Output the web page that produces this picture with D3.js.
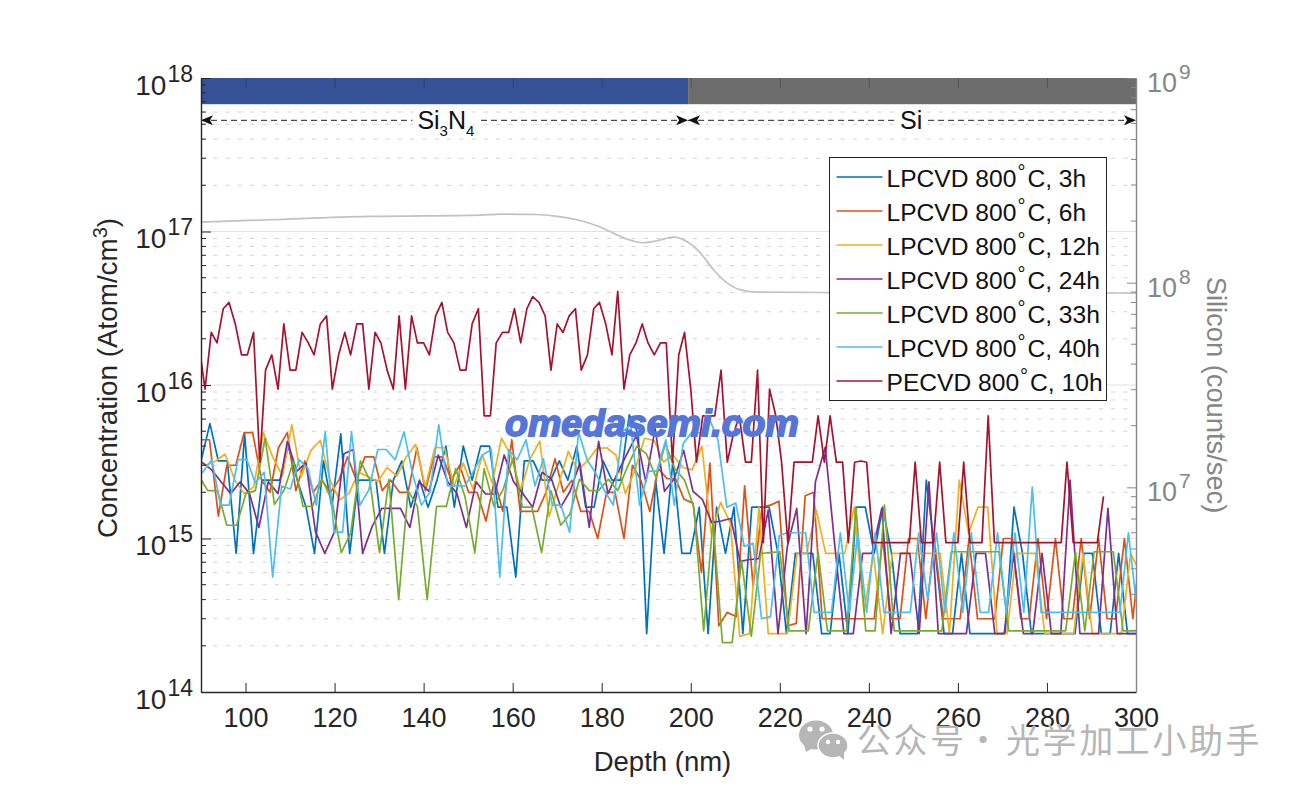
<!DOCTYPE html>
<html>
<head>
<meta charset="utf-8">
<script src="https://cdn.jsdelivr.net/npm/d3@7"></script>
<style>
  body { margin: 0; background: #fff; }
  svg { display: block; }
  text { font-family: "Liberation Sans", Arial, sans-serif; }
</style>
</head>
<body>
<svg id="chart" width="1303" height="793"></svg>
<script>
// concentrations are in units of 1e15 atom/cm3, silicon in units of 1e8 counts/sec
const depth3h = [
  90.0,92.0,93.9,95.9,97.9,99.8,101.8,103.7,105.7,107.7,
  109.6,111.6,113.6,115.5,117.5,119.4,121.4,123.4,125.3,127.3,
  129.3,131.2,133.2,135.1,137.1,139.1,141.0,143.0,145.0,146.9,
  148.9,150.9,152.8,154.8,156.7,158.7,160.7,162.6,164.6,166.6,
  168.5,170.5,172.4,174.4,176.4,178.3,180.3,182.3,184.2,186.2,
  188.2,190.1,192.1,194.0,196.0,198.0,199.9,201.9,203.9,205.8,
  207.8,209.7,211.7,213.7,215.6,217.6,219.6,221.5,223.5,225.4,
  227.4,229.4,231.3,233.3,235.3,237.2,239.2,241.2,243.1,245.1,
  247.0,249.0,251.0,252.9,254.9,256.9,258.8,260.8,262.7,264.7,
  266.7,268.6,270.6,272.6,274.5,276.5,278.5,280.4,282.4,284.3,
  286.3,288.3,290.2,292.2,294.2,296.1,298.1,300.0];
const conc3h = [
  3.2,5.6,3.2,3.2,.8,4.8,.8,2.4,2.4,2.4,
  4,2.4,1.6,.8,3.2,1.6,4.8,.8,2.4,2.4,
  2.4,.8,2.4,3.2,1.6,2.4,1.6,2.4,4,1.6,
  4,2.4,4,4,1.6,1.6,.56,3.2,3.2,2.4,
  2.4,3.2,2.4,4,1.6,1.6,3.2,2.4,2.4,6.4,
  4.8,.24,2.4,.8,3.2,.8,.8,1.6,.24,1.6,
  .8,1.6,.24,1.6,1.6,1.6,.8,.24,.8,.8,
  .8,.24,.24,.8,.24,1.6,1.6,.8,1.6,.8,
  .24,.24,.24,2.4,.8,.24,.24,.8,.24,.24,
  .24,.24,.24,1.6,.8,.24,.24,.24,.24,.24,
  .24,.8,.8,.24,.24,.8,.24,.24];

const depth6h = [
  90.0,91.9,93.9,95.8,97.8,99.7,101.6,103.6,105.5,107.4,
  109.4,111.3,113.3,115.2,117.1,119.1,121.0,122.9,124.9,126.8,
  128.8,130.7,132.6,134.6,136.5,138.5,140.4,142.3,144.3,146.2,
  148.1,150.1,152.0,154.0,155.9,157.8,159.8,161.7,163.6,165.6,
  167.5,169.5,171.4,173.3,175.3,177.2,179.1,181.1,183.0,185.0,
  186.9,188.8,190.8,192.7,194.7,196.6,198.5,200.5,202.4,204.3,
  206.3,208.2,210.2,212.1,214.0,216.0,217.9,219.8,221.8,223.7,
  225.7,227.6,229.5,231.5,233.4,235.4,237.3,239.2,241.2,243.1,
  245.0,247.0,248.9,250.9,252.8,254.7,256.7,258.6,260.5,262.5,
  264.4,266.4,268.3,270.2,272.2,274.1,276.0,278.0,279.9,281.9,
  283.8,285.7,287.7,289.6,291.6,293.5,295.4,297.4,299.3,301.2];
const conc6h = [
  4.4,4.4,1.4,3,3,4.9,4.9,2.4,2,3.9,
  4.9,2.05,3.2,2,2.4,2,2.4,3.4,2.4,3.4,
  3.4,2.05,2.4,2,2,3.9,2.05,3.4,3.4,2.4,
  3,2,2,1.3,2.4,1.5,4.4,1.5,1.5,1.5,
  2,3.3,2,2.4,1.5,1.5,1,2,2,1,
  3,2.4,1.5,2.85,2.45,2.45,1.8,1.7,.6,3.1,
  .27,.33,.31,2.2,.49,1.6,1.65,1.75,.27,.28,
  1.9,2,.3,.3,.3,.3,.3,.3,.3,1,
  .3,.3,1,1,.3,1,.3,.3,.3,1,
  .3,.3,.3,1,1,.3,.3,1,.3,1,
  .3,.3,1,.3,1,.3,.3,1,.3,1];

const depth12h = [
  89.0,91.1,93.3,95.4,97.6,99.7,101.8,104.0,106.1,108.3,
  110.4,112.5,114.7,116.8,119.0,121.1,123.2,125.4,127.5,129.7,
  131.8,134.0,136.1,138.2,140.4,142.5,144.7,146.8,148.9,151.1,
  153.2,155.4,157.5,159.6,161.8,163.9,166.1,168.2,170.4,172.5,
  174.6,176.8,178.9,181.1,183.2,185.3,187.5,189.6,191.8,193.9,
  196.0,198.2,200.3,202.5,204.6,206.7,208.9,211.0,213.2,215.3,
  217.4,219.6,221.7,223.9,226.0,228.2,230.3,232.4,234.6,236.7,
  238.9,241.0,243.1,245.3,247.4,249.6,251.7,253.8,256.0,258.1,
  260.3,262.4,264.5,266.7,268.8,271.0,273.1,275.3,277.4,279.5,
  281.7,283.8,286.0,288.1,290.2,292.4,294.5,296.7,298.8,300.9];
const conc12h = [
  3.4,3,3.2,3.55,2.4,1.96,2.16,4.9,3.4,2.55,
  5.5,2.53,3.75,4.35,2.4,1.78,1.96,2.7,2.53,2.34,
  2.9,2.55,3.4,4.1,2.16,3.9,3.9,2.2,3.1,2.1,
  3.5,2.3,4.5,3.5,2.07,3.3,4.3,1.39,2.3,3.7,
  2.8,3.2,3.85,3.9,3.5,1.96,2.8,4.5,4.35,3.15,
  3.5,2.9,2.8,4,1.08,1.72,1.26,.23,.24,1.6,
  .24,.24,.24,.8,.8,1.53,.8,.8,.8,1.6,
  .33,.8,.24,.8,.8,.8,.8,.8,.8,.24,
  2.4,1.08,1.6,1.6,.24,.24,.8,.8,.8,.24,
  .24,.24,.24,.8,.24,.24,.24,.24,.8,.6];

const depth24h = [
  90.3,92.4,94.5,96.7,98.8,100.9,103.0,105.1,107.3,109.4,
  111.5,113.6,115.7,117.8,120.0,122.1,124.2,126.3,128.4,130.6,
  132.7,134.8,136.9,139.0,141.2,143.3,145.4,147.5,149.6,151.8,
  153.9,156.0,158.1,160.2,162.3,164.5,166.6,168.7,170.8,172.9,
  175.1,177.2,179.3,181.4,183.5,185.7,187.8,189.9,192.0,194.1,
  196.3,198.4,200.5,202.6,204.7,206.8,209.0,211.1,213.2,215.3,
  217.4,219.6,221.7,223.8,225.9,228.0,230.2,232.3,234.4,236.5,
  238.6,240.7,242.9,245.0,247.1,249.2,251.3,253.5,255.6,257.7,
  259.8,261.9,264.1,266.2,268.3,270.4,272.5,274.7,276.8,278.9,
  281.0,283.1,285.2,287.4,289.5,291.6,293.7,295.8,298.0,300.1];
const conc24h = [
  3.12,2.8,2.34,1.96,2.34,1.96,1.18,2.34,1.96,4.3,
  2.75,3.1,1.11,.8,1.11,3.57,3.8,.8,1.19,1.57,
  1.57,1.57,1.18,2.34,2.03,3.5,2.34,1.96,1.18,2.34,
  1.95,1.95,3.5,2.34,1.96,1.6,2.7,2.45,1.6,2.03,
  3.1,1.18,4.3,1.96,2.65,3.57,4.7,2.34,5.2,2.03,
  2.45,3.75,2.03,1.8,1.27,1.3,1.35,.71,.73,.74,
  1.53,.24,.89,1.57,.24,2.34,3.93,.93,.24,.24,
  .8,.8,1.57,.24,.8,.8,.24,2.34,.24,.24,
  .24,.24,.8,.8,.24,.24,.8,.24,.24,.8,
  .24,.24,2.4,.24,.24,.24,1.57,.24,.24,.24];

const depth33h = [
  89.4,91.5,93.7,95.8,98.0,100.1,102.2,104.4,106.5,108.7,
  110.8,112.9,115.1,117.2,119.4,121.5,123.6,125.8,127.9,130.1,
  132.2,134.4,136.5,138.6,140.8,142.9,145.1,147.2,149.3,151.5,
  153.6,155.8,157.9,160.0,162.2,164.3,166.5,168.6,170.8,172.9,
  175.0,177.2,179.3,181.5,183.6,185.7,187.9,190.0,192.2,194.3,
  196.4,198.6,200.7,202.9,205.0,207.1,209.3,211.4,213.6,215.7,
  217.8,220.0,222.1,224.3,226.4,228.6,230.7,232.8,235.0,237.1,
  239.3,241.4,243.5,245.7,247.8,250.0,252.1,254.2,256.4,258.5,
  260.7,262.8,264.9,267.1,269.2,271.4,273.5,275.7,277.8,279.9,
  282.1,284.2,286.4,288.5,290.6,292.8,294.9,297.1,299.2,301.3];
const conc33h = [
  2.6,2.05,2.05,1.22,1.22,1.96,2.05,4.5,1.67,2.07,
  3.2,1.62,1.62,2.43,1.78,.81,1.08,3.2,2.4,.81,
  2.43,.4,2.05,1.62,.4,1.62,1.62,2.85,1.87,.81,
  2.85,1.62,2.1,3.3,1.6,1.6,.81,2.05,1.22,1.45,
  2.43,2.05,2.05,2.43,2.05,2.9,4,3.57,2.5,4.15,
  2.85,2.4,1.6,.25,1.3,.21,.21,.72,.23,.8,
  .81,.82,.25,.25,.25,.82,.25,.25,.25,1.6,
  .25,.25,1.65,.25,.25,.25,.25,.25,.25,.82,
  .82,.82,.82,.82,.82,.25,.25,.25,.25,.25,
  .25,.25,.82,.25,.82,.82,.82,.25,.25,.25];

const depth40h = [
  88.5,90.4,92.4,94.4,96.3,98.3,100.3,102.2,104.2,106.1,108.1,
  110.1,112.0,114.0,115.9,117.9,119.9,121.8,123.8,125.7,127.7,
  129.7,131.6,133.6,135.6,137.5,139.5,141.4,143.4,145.4,147.3,
  149.3,151.2,153.2,155.2,157.1,159.1,161.0,163.0,165.0,166.9,
  168.9,170.8,172.8,174.8,176.7,178.7,180.7,182.6,184.6,186.5,
  188.5,190.5,192.4,194.4,196.3,198.3,200.3,202.2,204.2,206.1,
  208.1,210.1,212.0,214.0,215.9,217.9,219.9,221.8,223.8,225.8,
  227.7,229.7,231.6,233.6,235.6,237.5,239.5,241.4,243.4,245.4,
  247.3,249.3,251.2,253.2,255.2,257.1,259.1,261.1,263.0,265.0,
  266.9,268.9,270.9,272.8,274.8,276.7,278.7,280.7,282.6,284.6,
  286.5,288.5,290.5,292.4,294.4,296.4,298.3,300.3];
const conc40h = [
  2.7,2.7,3.26,1.65,1.65,3.26,3.26,2.3,2.7,.56,2.2,
  2.1,3.26,2.86,1.65,4.95,1.1,1.1,4.95,1.65,2.07,
  3.8,3.8,3.26,4.95,2.65,1.65,2,5.5,2.2,2.2,
  2.2,2.75,3.5,3.8,.56,3.8,3.26,4.4,2.2,3.3,
  1.65,1.65,1.1,4.95,3.26,2.65,2.03,1.65,4.95,5.5,
  1.65,2.75,2.75,4.4,1.65,4.15,4.95,4.85,6,4.4,
  1.6,1.7,.89,.93,.3,.31,1.05,1.09,1.09,1.09,
  .33,.33,.33,1.09,.33,1.09,.33,1.09,.33,.33,
  .33,.33,1.09,.4,1.09,.33,1.09,.33,1.09,.33,
  .33,1.09,.33,1.09,.33,2.16,.33,.33,.33,.33,
  .33,.33,.33,.33,.33,.33,1.09,.33];

const depthPecvd = [
  89.5,90.9,92.3,93.6,95.0,96.3,97.7,99.1,100.4,101.8,
  103.2,104.5,105.9,107.3,108.6,110.0,111.3,112.7,114.1,115.4,
  116.8,118.2,119.5,120.9,122.3,123.6,125.0,126.3,127.7,129.1,
  130.4,131.8,133.2,134.5,135.9,137.3,138.6,140.0,141.3,142.7,
  144.1,145.4,146.8,148.2,149.5,150.9,152.3,153.6,155.0,156.3,
  157.7,159.1,160.4,161.8,163.2,164.5,165.9,167.3,168.6,170.0,
  171.3,172.7,174.1,175.4,176.8,178.2,179.5,180.9,182.3,183.6,
  185.0,186.3,187.7,189.1,190.4,191.8,193.2,194.5,195.9,197.3,
  198.6,200.0,201.3,202.7,204.1,205.4,206.8,208.2,209.5,210.9,
  212.3,213.6,215.0,216.3,217.7,219.1,220.4,221.8,223.2,224.5,
  225.9,227.3,228.6,230.0,231.3,232.7,234.1,235.4,236.8,238.2,
  239.5,240.9,242.3,243.6,245.0,246.3,247.7,249.1,250.4,251.8,
  253.2,254.5,255.9,257.3,258.6,260.0,261.3,262.7,264.1,265.4,
  266.8,268.2,269.5,270.9,272.3,273.6,275.0,276.3,277.7,279.1,
  280.4,281.8,283.2,284.5,285.9,287.3,288.6,290.0,291.3,292.7];
const concPecvd = [
  18.8,9.4,22,18.8,31.4,34.5,25,15.7,15.7,22,
  3.14,12.5,15.7,9.4,25,12.5,12.5,22,18.8,15.7,
  25,28.2,9.4,15.7,22,15.7,25,25,9.4,22,
  18.8,12.5,9.4,28.2,9.4,28.2,18.8,18.8,15.7,28.2,
  34.5,22,18.8,12.5,12.5,25,31.4,6.3,6.3,18.8,
  22,22,31.4,18.8,31.4,37.6,34.5,28.2,12.5,25,
  22,28.2,31.4,12.5,15.7,31.4,34.5,25,15.7,40.8,
  9.4,15.7,18.8,25,18.8,15.7,18.8,18.8,3.14,15.7,
  22,9.4,3.14,6.3,6.3,6.3,12.5,3.14,4.7,6.3,
  3.14,3.14,12.5,.94,9.4,6.3,3.14,.94,3.14,3.14,
  3.14,3.14,6.3,3.14,6.3,3.14,3.14,.94,3.14,3.2,
  3.14,.94,.94,.94,.94,.94,.94,.94,3.14,.94,
  .94,.94,3.14,.94,.94,.94,3.14,.94,.94,.94,
  6.3,.94,.94,.94,.94,.94,.94,.94,.94,.94,
  .94,.94,.94,3.14,.94,.94,.94,.94,.94,1.88];

const depthSilicon = [90,105.5,128,152.7,157.2,165.4,169.1,175.1,178.9,182.6,185.6,189.3,192.4,196.1,199.1,202.1,205.1,208.1,211,214.8,230.5,300];
const silicon = [1.977,2.03,2.107,2.139,2.163,2.153,2.122,2.013,1.897,1.748,1.634,1.567,1.603,1.671,1.59,1.401,1.157,1,.924,.9,.895,.89];

const legendLabels = ["3h", "6h", "12h", "24h", "33h", "40h", "10h"];
const legendPrefix = ["LPCVD", "LPCVD", "LPCVD", "LPCVD", "LPCVD", "LPCVD", "PECVD"];
const colors = ["#0072BD", "#D95319", "#EDB120", "#7E2F8E", "#77AC30", "#4DBEEE", "#A2142F"];
const xTicks = [100, 120, 140, 160, 180, 200, 220, 240, 260, 280, 300];

const layerNames = ["Si3N4", "Si"];
const layerEdges = [90, 199.4, 300];
const layerColors = ["#345295", "#6d6d6d"];

const series = [
  [depth3h, conc3h], [depth6h, conc6h], [depth12h, conc12h], [depth24h, conc24h],
  [depth33h, conc33h], [depth40h, conc40h], [depthPecvd, concPecvd]
];

const margin = {top: 78, right: 167, bottom: 101, left: 201};
const width = 1303, height = 793;
const unit = 1e15, siUnit = 1e8;

const svg = d3.select("#chart");

const x = d3.scaleLinear().domain([90, 300]).range([margin.left, width - margin.right]);
const y = d3.scaleLog().domain([1e14, 1e18]).range([height - margin.bottom, margin.top]);
const y2 = d3.scaleLog().domain([1e6, 1e9]).range([height - margin.bottom, margin.top]);

function decades(lo, hi) { return d3.range(lo, hi + 1).map(e => Math.pow(10, e)); }
function minors(lo, hi) {
  const out = [];
  d3.range(lo, hi).forEach(e => d3.range(2, 10).forEach(m => out.push(m * Math.pow(10, e))));
  return out;
}

svg.append("defs").append("clipPath").attr("id", "plotclip")
  .append("rect")
  .attr("x", margin.left).attr("y", margin.top)
  .attr("width", x(300) - x(90)).attr("height", y(1e14) - y(1e18));

// grid
svg.append("g").selectAll("line")
  .data(minors(14, 18))
  .join("line")
  .attr("x1", x(90)).attr("x2", x(300))
  .attr("y1", d => y(d)).attr("y2", d => y(d))
  .attr("stroke", "#d4d4d4")
  .attr("stroke-width", 1)
  .attr("stroke-dasharray", "4 8.3");

svg.append("g").selectAll("line")
  .data(decades(15, 17))
  .join("line")
  .attr("x1", x(90)).attr("x2", x(300))
  .attr("y1", d => y(d)).attr("y2", d => y(d))
  .attr("stroke", "#e2e2e2")
  .attr("stroke-width", 1.2);

const plot = svg.append("g").attr("clip-path", "url(#plotclip)");

// silicon counts on the right axis
const siLine = d3.line().x(d => x(d[0])).y(d => y2(d[1] * siUnit)).curve(d3.curveMonotoneX);
plot.append("path")
  .datum(depthSilicon.map((d, i) => [d, silicon[i]]))
  .attr("fill", "none")
  .attr("stroke", "#c2c2c2")
  .attr("stroke-width", 1.7)
  .attr("d", siLine);

const line = d3.line().x(d => x(d[0])).y(d => y(d[1] * unit));
plot.selectAll(".series")
  .data(series)
  .join("path")
  .attr("class", "series")
  .attr("fill", "none")
  .attr("stroke", (d, i) => colors[i])
  .attr("stroke-width", 1.7)
  .attr("stroke-linejoin", "round")
  .attr("d", d => line(d[0].map((v, i) => [v, d[1][i]])));

// layer bar on top of the plot
const barBottom = 6.75e17;
svg.append("g").selectAll("rect")
  .data(layerNames)
  .join("rect")
  .attr("x", (d, i) => x(layerEdges[i]))
  .attr("y", y(1e18))
  .attr("width", (d, i) => x(layerEdges[i + 1]) - x(layerEdges[i]))
  .attr("height", y(barBottom) - y(1e18))
  .attr("fill", (d, i) => layerColors[i]);

// arrows
const defs = svg.select("defs");
defs.append("marker").attr("id", "arrow")
  .attr("viewBox", "0 0 12 10").attr("refX", 12).attr("refY", 5)
  .attr("markerUnits", "userSpaceOnUse")
  .attr("markerWidth", 12).attr("markerHeight", 10)
  .attr("orient", "auto-start-reverse")
  .append("path").attr("d", "M0,0 L12,5 L0,10 L3,5 Z").attr("fill", "#111");

const arrowY = y(5.3e17);
svg.append("g").selectAll("line")
  .data(layerNames)
  .join("line")
  .attr("x1", (d, i) => x(layerEdges[i]))
  .attr("x2", (d, i) => x(layerEdges[i + 1]))
  .attr("y1", arrowY).attr("y2", arrowY)
  .attr("stroke", "#222")
  .attr("stroke-width", 1)
  .attr("stroke-dasharray", "6 4")
  .attr("marker-start", "url(#arrow)")
  .attr("marker-end", "url(#arrow)");

const si3n4 = svg.append("text").attr("font-size", 25).attr("fill", "#111").attr("text-anchor", "middle")
  .attr("x", x(145)).attr("y", arrowY + 9);
si3n4.append("tspan").text("Si");
si3n4.append("tspan").text("3").attr("font-size", 15).attr("dy", 7);
si3n4.append("tspan").text("N").attr("dy", -7);
si3n4.append("tspan").text("4").attr("font-size", 15).attr("dy", 7);
const siText = svg.append("text").attr("font-size", 25).attr("fill", "#111").attr("text-anchor", "middle")
  .attr("x", x(249.5)).attr("y", arrowY + 9).text("Si");

// white gap behind the two labels
[si3n4, siText].forEach(t => {
  const b = t.node().getBBox();
  svg.insert("rect", "text")
    .attr("x", b.x - 5).attr("y", arrowY - 4)
    .attr("width", b.width + 10).attr("height", 8)
    .attr("fill", "#fff");
});

// axes
function styleAxis(g, color) {
  g.selectAll("path").attr("stroke", color).attr("stroke-width", 1.4);
  g.selectAll("line").attr("stroke", color).attr("stroke-width", 1);
}
function powerLabels(g, color, xPos, anchor, baseY, size, supSize, supDx, supDy) {
  g.selectAll("text").each(function(d) {
    const t = d3.select(this);
    const exp = Math.round(Math.log10(d));
    t.text(null)
      .attr("x", xPos).attr("y", baseY).attr("dy", 0)
      .attr("text-anchor", anchor)
      .attr("fill", color);
    t.append("tspan").text("10").attr("font-size", size);
    t.append("tspan").text(exp).attr("font-size", supSize).attr("dx", supDx).attr("dy", supDy);
  });
}

const gx = svg.append("g")
  .attr("transform", `translate(0,${height - margin.bottom})`)
  .call(d3.axisBottom(x).tickValues(xTicks).tickSizeInner(-9).tickSizeOuter(0).tickPadding(25));
styleAxis(gx, "#262626");
gx.selectAll("text").attr("font-size", 27).attr("fill", "#262626").attr("font-family", null).attr("dy", "0.71em").attr("y", 16);

const gxTop = svg.append("g")
  .attr("transform", `translate(0,${margin.top})`)
  .call(d3.axisTop(x).tickValues(xTicks).tickSizeInner(-10).tickSizeOuter(0).tickFormat(""));
gxTop.selectAll("path").attr("stroke", "none");
gxTop.selectAll("line").attr("stroke", "#262626").attr("stroke-opacity", 0.35);

const gy = svg.append("g")
  .attr("transform", `translate(${margin.left},0)`)
  .call(d3.axisLeft(y).tickValues(decades(14, 18)).tickSizeInner(-10).tickSizeOuter(0));
styleAxis(gy, "#262626");
gy.attr("font-family", null);
powerLabels(gy, "#262626", -8, "end", 16, 28, 23, 1, -13);
gy.append("g").selectAll("line")
  .data(minors(14, 18))
  .join("line")
  .attr("x1", 0).attr("x2", 5)
  .attr("y1", d => y(d)).attr("y2", d => y(d))
  .attr("stroke", "#262626");

const gy2 = svg.append("g")
  .attr("transform", `translate(${width - margin.right},0)`)
  .call(d3.axisRight(y2).tickValues(decades(7, 9)).tickSizeInner(-9).tickSizeOuter(0));
styleAxis(gy2, "#868686");
gy2.attr("font-family", null);
powerLabels(gy2, "#868686", 11, "start", 13.5, 27, 21, 2, -13);
gy2.append("g").selectAll("line")
  .data(minors(6, 9))
  .join("line")
  .attr("x1", 0).attr("x2", -5)
  .attr("y1", d => y2(d)).attr("y2", d => y2(d))
  .attr("stroke", "#868686");

// axis titles
svg.append("text")
  .attr("x", 662.5).attr("y", 771)
  .attr("text-anchor", "middle").attr("font-size", 27.5).attr("fill", "#262626")
  .text("Depth (nm)");

const yTitle = svg.append("text")
  .attr("transform", "translate(117,378) rotate(-90)")
  .attr("text-anchor", "middle").attr("font-size", 27.8).attr("fill", "#262626");
yTitle.append("tspan").text("Concentration (Atom/cm");
yTitle.append("tspan").text("3").attr("font-size", 20).attr("dy", -10);
yTitle.append("tspan").text(")").attr("dy", 10);

svg.append("text")
  .attr("transform", "translate(1207,395) rotate(90)")
  .attr("text-anchor", "middle").attr("font-size", 27.3).attr("fill", "#868686")
  .text("Silicon (counts/sec)");

// legend
const legend = svg.append("g").attr("transform", "translate(829.5,157.5)");
legend.append("rect")
  .attr("width", 277).attr("height", 243)
  .attr("fill", "#fff").attr("stroke", "#262626").attr("stroke-width", 1);
const rows = legend.selectAll(".row")
  .data(legendLabels)
  .join("g")
  .attr("class", "row")
  .attr("transform", (d, i) => `translate(0,${19.5 + 34 * i})`);
rows.append("line")
  .attr("x1", 7).attr("x2", 53)
  .attr("stroke", (d, i) => colors[i]).attr("stroke-width", 1.5);
const rowText = rows.append("text")
  .attr("x", 57).attr("y", 10)
  .attr("font-size", 24.6).attr("fill", "#111");
rowText.append("tspan").text((d, i) => legendPrefix[i] + " 800");
rowText.append("tspan").text("°").attr("font-size", 20).attr("dx", 1).attr("dy", -8);
rowText.append("tspan").text(d => "C, " + d).attr("dx", 2).attr("dy", 8);

// watermarks
svg.append("text")
  .attr("x", 505).attr("y", 436)
  .attr("font-size", 37.5).attr("font-weight", "bold").attr("font-style", "italic")
  .attr("fill", "#5576d8").attr("stroke", "#5576d8").attr("stroke-width", 1.8)
  .text("omedasemi.com");

const wechat = svg.append("g").attr("fill", "#b6b6b6");
wechat.append("ellipse").attr("cx", 816).attr("cy", 735).attr("rx", 17).attr("ry", 14.5);
wechat.append("path").attr("d", "M804,745 L806,752 L813,748 Z");
wechat.append("ellipse").attr("cx", 833).attr("cy", 745.5).attr("rx", 15).attr("ry", 12.5)
  .attr("stroke", "#fff").attr("stroke-width", 1.5);
wechat.append("path").attr("d", "M838,755 L844,760 L844,752 Z");
[[810, 729, 2.6], [822, 729, 2.6], [828, 742, 2.2], [838, 742, 2.2]].forEach(c => {
  wechat.append("circle").attr("cx", c[0]).attr("cy", c[1]).attr("r", c[2]).attr("fill", "#fff");
});
const markParts = [[857, "公众号"], [966, "·"], [1006, "光学加工小助手"]];
svg.append("g").selectAll("text")
  .data(markParts)
  .join("text")
  .attr("x", d => d[0]).attr("y", 753)
  .attr("font-size", 34).attr("fill", "#b6b6b6").attr("letter-spacing", 2.6)
  .style("font-family", '"Noto Sans CJK SC", sans-serif')
  .text(d => d[1]);
</script>
</body>
</html>
